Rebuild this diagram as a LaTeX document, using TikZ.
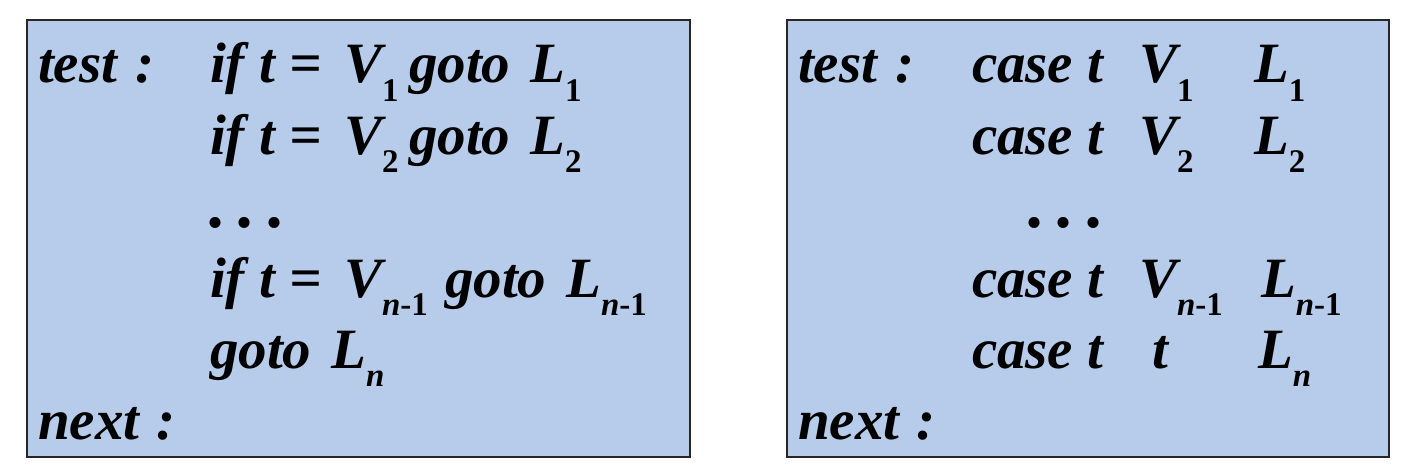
\documentclass[tikz,border=0pt]{standalone}
\usepackage{fontspec}
\setmainfont{Liberation Serif}
\definecolor{boxfill}{RGB}{182,204,234}
\newcommand\sbs[1]{\raisebox{-0.33em}{\fontsize{33}{33}\selectfont #1}}
\newcommand\subu[1]{\sbs{\upshape #1}}
\newcommand\subnm{\sbs{n\upshape -1}}
\newcommand\threedots{{\fontsize{68}{68}\selectfont .\kern13pt.\kern13pt.}}
\tikzset{
  panel/.style={draw=black!85, line width=1.8pt, fill=boxfill},
  code/.style={anchor=base west, inner sep=0pt, outer sep=0pt,
    font=\fontsize{57}{68}\selectfont\bfseries\itshape}
}
\begin{document}
\begin{tikzpicture}[x=1pt,y=-1pt]
\useasboundingbox (0,0) rectangle (1414,476);
\draw[panel] (27,20) rectangle (690,457);
\draw[panel] (787,20) rectangle (1389,457);
% left panel
\node[code] (lt) at (38,83) {test\kern0.32em:};
\node[code] (l1a) at (210,83) {if t =};
\node[code] (l1v) at (344,83) {V\subu{1}};
\node[code] (l1g) at (409,83) {goto\kern0.35em L\subu{1}};
\node[code] (l2a) at (210,154) {if t =};
\node[code] (l2v) at (344,154) {V\subu{2}};
\node[code] (l2g) at (409,154) {goto\kern0.35em L\subu{2}};
\node[code] (ld) at (209,227) {\threedots};
\node[code] (l4a) at (210,297) {if t =};
\node[code] (l4v) at (344,297) {V\subnm};
\node[code] (l4g) at (445,297) {goto\kern0.35em L\subnm};
\node[code] (l5) at (210,368) {goto\kern0.35em L\sbs{n}};
\node[code] (ln) at (38,439) {next\kern0.3em:};
% right panel
\node[code] (rt) at (798,83) {test\kern0.32em:};
\node[code] (r1c) at (972,83) {case t};
\node[code] (r1v) at (1139,83) {V\subu{1}};
\node[code] (r1l) at (1254,83) {L\subu{1}};
\node[code] (r2c) at (972,154) {case t};
\node[code] (r2v) at (1139,154) {V\subu{2}};
\node[code] (r2l) at (1254,154) {L\subu{2}};
\node[code] (rd) at (1028,227) {\threedots};
\node[code] (r4c) at (972,297) {case t};
\node[code] (r4v) at (1139,297) {V\subnm};
\node[code] (r4l) at (1261,297) {L\subnm};
\node[code] (r5c) at (972,368) {case t};
\node[code] (r5t) at (1152,368) {t};
\node[code] (r5l) at (1258,368) {L\sbs{n}};
\node[code] (rn) at (798,439) {next\kern0.3em:};
\end{tikzpicture}
\end{document}
